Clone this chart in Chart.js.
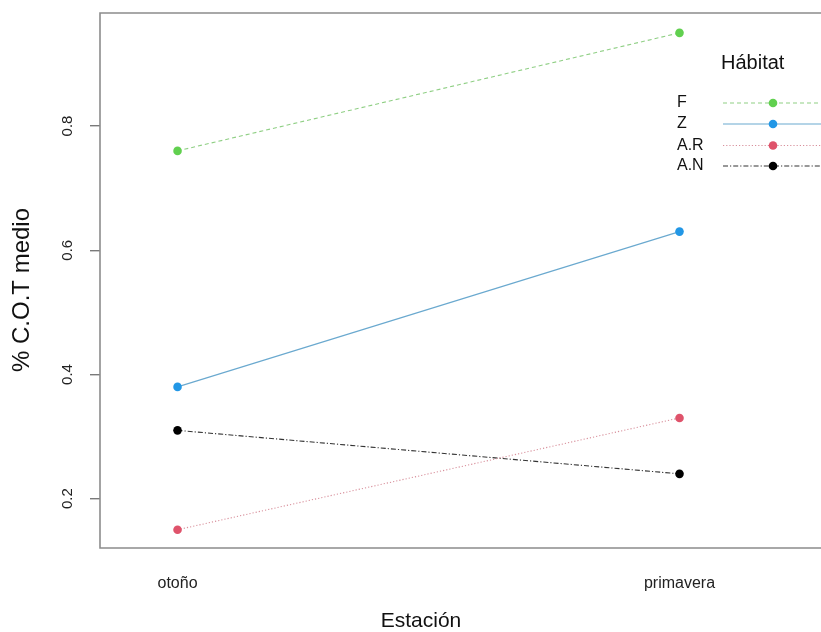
<!DOCTYPE html>
<html>
<head>
<meta charset="utf-8">
<script src="https://cdn.jsdelivr.net/npm/chart.js@4.4.1/dist/chart.umd.min.js"></script>
<style>
  html, body { margin: 0; padding: 0; background: #fff; overflow: hidden; }
  #wrap { width: 821px; height: 632px; position: relative; }
</style>
</head>
<body>
<div id="wrap"><canvas id="c" width="821" height="632"></canvas></div>
<script>
// ---- data ----
const categories = ["otoño", "primavera"];
const habitats = ["F", "Z", "A.R", "A.N"];
const valuesF  = [0.76, 0.95];
const valuesZ  = [0.38, 0.63];
const valuesAR = [0.15, 0.33];
const valuesAN = [0.31, 0.24];
const yTicks = [0.2, 0.4, 0.6, 0.8];
const xTitle = "Estación";
const yTitle = "% C.O.T medio";
const legendTitle = "Hábitat";

// ---- styles ----
const seriesValues = [valuesF, valuesZ, valuesAR, valuesAN];
const pointColors = ["#61D04F", "#2297E6", "#DF536B", "#000000"];
const lineColors  = ["#8fcf84", "#6aa9cf", "#d8909c", "#333333"];
const dashes = [[4, 3], [], [1.2, 2], [5, 2, 1.2, 2]];

const datasets = habitats.map((h, i) => ({
  label: h,
  data: seriesValues[i].map((v, j) => ({ x: j, y: v })),
  borderColor: lineColors[i],
  backgroundColor: pointColors[i],
  pointBackgroundColor: pointColors[i],
  pointBorderWidth: 0,
  pointRadius: 4.3,
  borderWidth: 1.1,
  borderDash: dashes[i],
  tension: 0
}));

const FONT = "'Liberation Sans', Arial, sans-serif";
const BOX = { left: 100, top: 13, bottom: 548 };

const decor = {
  id: 'decor',
  beforeDatasetsDraw(chart) {
    const ctx = chart.ctx;
    ctx.save();
    ctx.strokeStyle = "#8c8c8c";
    ctx.lineWidth = 1.6;
    ctx.beginPath();
    ctx.moveTo(840, BOX.top);
    ctx.lineTo(BOX.left, BOX.top);
    ctx.lineTo(BOX.left, BOX.bottom);
    ctx.lineTo(840, BOX.bottom);
    ctx.stroke();
    ctx.restore();
  },
  afterDraw(chart) {
    const ctx = chart.ctx;
    const ys = chart.scales.y;
    ctx.save();
    // y tick labels (rotated)
    ctx.fillStyle = "#222";
    ctx.font = "15px " + FONT;
    ctx.textAlign = "center";
    ctx.textBaseline = "middle";
    yTicks.forEach(t => {
      const py = ys.getPixelForValue(t);
      ctx.save();
      ctx.translate(68, py);
      ctx.rotate(-Math.PI / 2);
      ctx.fillText(String(t), 0, 0);
      ctx.restore();
    });
    // axis titles
    ctx.fillStyle = "#111";
    ctx.font = "21px " + FONT;
    ctx.fillText(xTitle, 421, 621);
    ctx.save();
    ctx.translate(22, 290);
    ctx.rotate(-Math.PI / 2);
    ctx.font = "24px " + FONT;
    ctx.fillText(yTitle, 0, 0);
    ctx.restore();
    // legend
    ctx.font = "20px " + FONT;
    ctx.textAlign = "left";
    ctx.fillText(legendTitle, 721, 63);
    const rowY = [103, 124, 145.5, 166];
    ctx.font = "16px " + FONT;
    habitats.forEach((h, i) => {
      const y = rowY[i];
      ctx.fillStyle = "#111";
      ctx.textAlign = "left";
      ctx.fillText(h, 677, y);
      ctx.strokeStyle = lineColors[i];
      ctx.lineWidth = 1.1;
      ctx.setLineDash(dashes[i]);
      ctx.beginPath();
      ctx.moveTo(723, y);
      ctx.lineTo(821, y);
      ctx.stroke();
      ctx.setLineDash([]);
      ctx.fillStyle = pointColors[i];
      ctx.beginPath();
      ctx.arc(773, y, 4.3, 0, Math.PI * 2);
      ctx.fill();
    });
    ctx.restore();
  }
};

new Chart(document.getElementById('c'), {
  type: 'line',
  data: { datasets },
  plugins: [decor],
  options: {
    responsive: false,
    animation: false,
    layout: { padding: { top: BOX.top, right: 0, left: 0, bottom: 0 } },
    plugins: { legend: { display: false }, tooltip: { enabled: false } },
    scales: {
      x: {
        type: 'linear',
        min: -0.15446,
        max: 1.2733,
        afterBuildTicks: s => { s.ticks = categories.map((c, i) => ({ value: i })); },
        afterFit: s => { s.height = 632 - BOX.bottom; },
        grid: { display: false, drawTicks: false },
        border: { display: false },
        ticks: {
          padding: 26,
          color: "#222",
          font: { family: FONT, size: 16 },
          maxRotation: 0,
          callback: v => categories[v] ?? ''
        }
      },
      y: {
        min: 0.1206,
        max: 0.982,
        afterBuildTicks: s => { s.ticks = yTicks.map(v => ({ value: v })); },
        afterFit: s => { s.width = BOX.left; },
        grid: { drawOnChartArea: false, drawTicks: true, tickLength: 10, color: "#7a7a7a", lineWidth: 1.4 },
        border: { display: false },
        ticks: { display: true, color: "rgba(0,0,0,0)", font: { size: 1 }, padding: 0 }
      }
    }
  }
});
</script>
</body>
</html>
